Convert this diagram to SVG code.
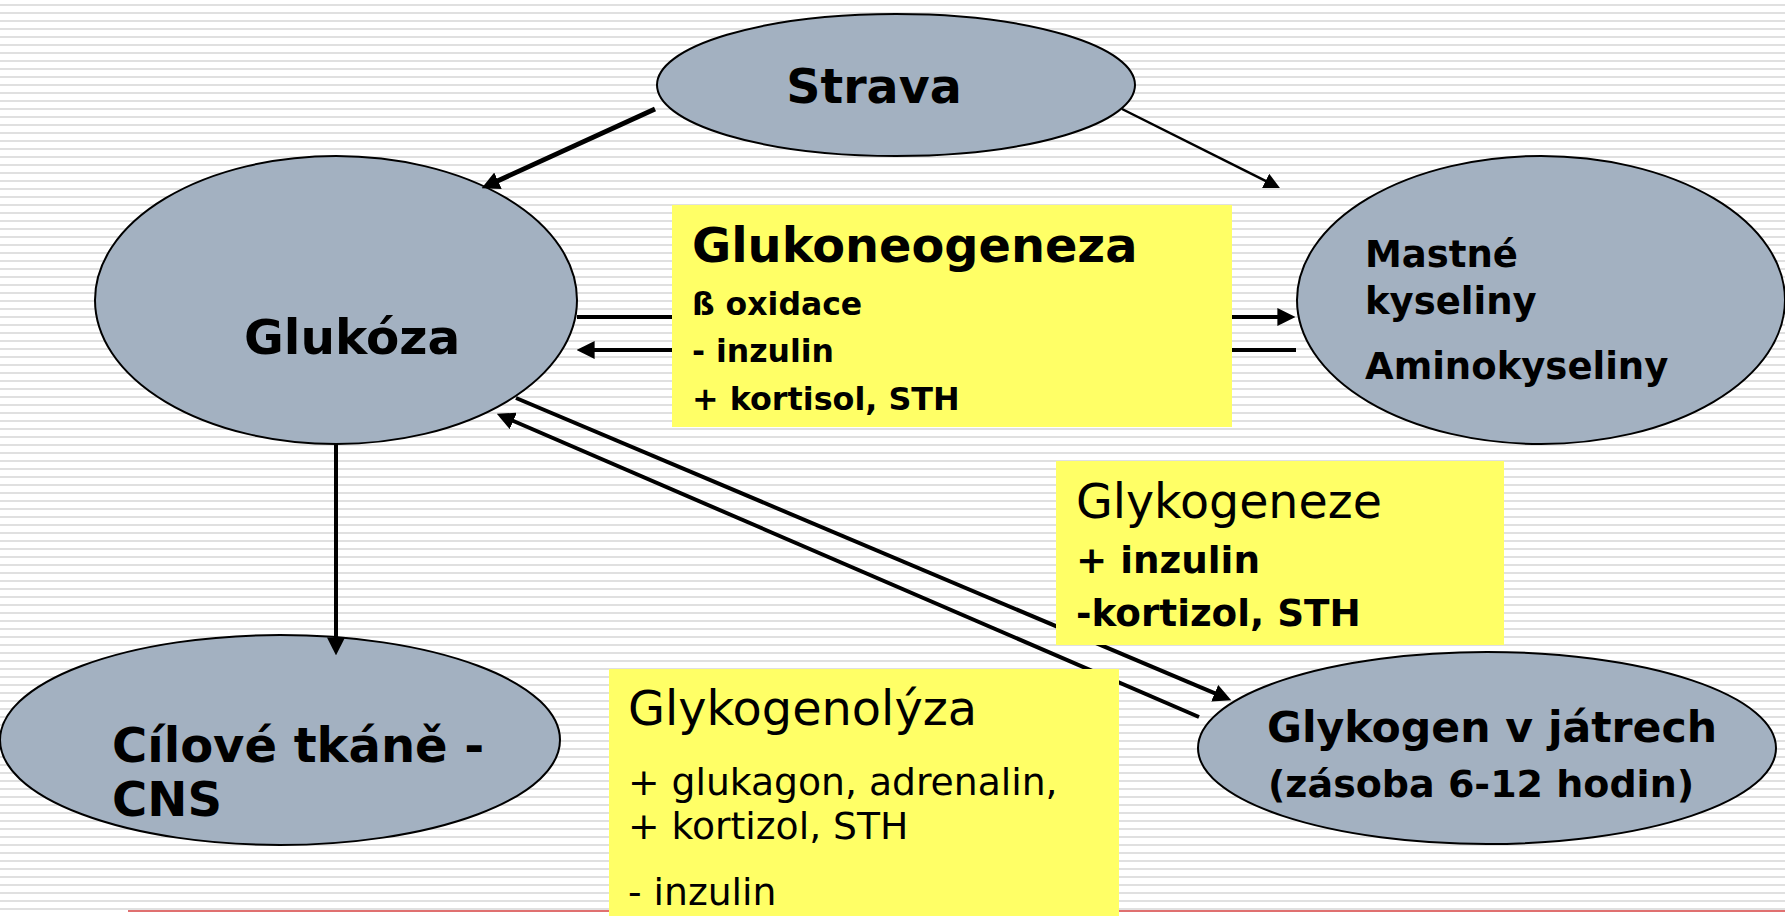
<svg xmlns="http://www.w3.org/2000/svg" width="1785" height="916" viewBox="0 0 1785 916">
<style>
.node{fill:#a3b1c1;stroke:#000;stroke-width:2}
.box{fill:#ffff66}
.b{font-family:"DejaVu Sans","Liberation Sans",sans-serif;font-weight:bold;fill:#000}
.r{font-family:"DejaVu Sans","Liberation Sans",sans-serif;font-weight:normal;fill:#000}
.thick{stroke:#000;stroke-width:5;fill:none}
.mid{stroke:#000;stroke-width:4;fill:none}
.thin{stroke:#000;stroke-width:2.5;fill:none}
</style>
<defs>
<pattern id="stripes" width="8" height="8" patternUnits="userSpaceOnUse">
<rect width="8" height="8" fill="#ffffff"/>
<rect y="4" width="8" height="2" fill="#e0e0e0"/>
</pattern>
<marker id="ah" viewBox="0 0 10 10" refX="2" refY="5" markerWidth="18" markerHeight="18" markerUnits="userSpaceOnUse" orient="auto">
<path d="M0,0 L10,5 L0,10 z" fill="#000"/>
</marker>
<marker id="ahs" viewBox="0 0 10 10" refX="2" refY="5" markerWidth="16" markerHeight="16" markerUnits="userSpaceOnUse" orient="auto">
<path d="M0,0 L10,5 L0,10 z" fill="#000"/>
</marker>
</defs>
<rect width="1785" height="916" fill="url(#stripes)"/>
<line x1="128" y1="911" x2="1785" y2="911" stroke="#e07070" stroke-width="2"/>

<g id="strava">
<ellipse class="node" cx="896" cy="85" rx="239" ry="71"/>
<text class="b" x="874" y="103" font-size="47.5" text-anchor="middle">Strava</text>
</g>
<g id="glukoza">
<ellipse class="node" cx="336" cy="300" rx="241" ry="144"/>
<text class="b" x="244" y="354" font-size="48.5">Glukóza</text>
</g>
<g id="mastne">
<ellipse class="node" cx="1541" cy="300" rx="244" ry="144"/>
<text class="b" x="1365" y="267" font-size="37">Mastné</text>
<text class="b" x="1365" y="314" font-size="37">kyseliny</text>
<text class="b" x="1365" y="379" font-size="37">Aminokyseliny</text>
</g>
<g id="cilove">
<ellipse class="node" cx="280" cy="740" rx="280" ry="105"/>
<text class="b" x="112" y="762" font-size="48">Cílové tkáně -</text>
<text class="b" x="112" y="816" font-size="48">CNS</text>
</g>
<g id="glykogen">
<ellipse class="node" cx="1487" cy="748" rx="289" ry="96"/>
<text class="b" x="1267" y="742" font-size="42.6">Glykogen v játrech</text>
<text class="b" x="1268" y="797" font-size="38">(zásoba 6-12 hodin)</text>
</g>

<g id="connectors">
<line class="thick" x1="655" y1="109" x2="494.7" y2="182.2" marker-end="url(#ah)"/>
<line class="thin" x1="1122" y1="109" x2="1268.5" y2="182.3" marker-end="url(#ahs)"/>
<line class="mid" x1="577" y1="317" x2="1281" y2="317" marker-end="url(#ah)"/>
<line class="mid" x1="1296" y1="350" x2="591" y2="350" marker-end="url(#ah)"/>
<line class="mid" x1="336" y1="444" x2="336" y2="641" marker-end="url(#ah)"/>
<line class="mid" x1="516" y1="398" x2="1218" y2="694.6" marker-end="url(#ah)"/>
<line class="mid" x1="1199" y1="717" x2="510" y2="419.5" marker-end="url(#ah)"/>
</g>

<g id="glukoneogeneza">
<rect class="box" x="672" y="205" width="560" height="222"/>
<text class="b" x="692" y="262" font-size="47.8">Glukoneogeneza</text>
<text class="b" x="692" y="315" font-size="31.5">ß oxidace</text>
<text class="b" x="692" y="362" font-size="31.5">- inzulin</text>
<text class="b" x="692" y="410" font-size="31.8">+ kortisol, STH</text>
</g>
<g id="glykogeneze">
<rect class="box" x="1056" y="461" width="448" height="184"/>
<text class="r" x="1076" y="518" font-size="47.5">Glykogeneze</text>
<text class="b" x="1076" y="573" font-size="37.3">+ inzulin</text>
<text class="b" x="1076" y="626" font-size="37.3">-kortizol, STH</text>
</g>
<g id="glykogenolyza">
<rect class="box" x="609" y="669" width="510" height="247"/>
<text class="r" x="628" y="725" font-size="47.8">Glykogenolýza</text>
<text class="r" x="628" y="795" font-size="37.7">+ glukagon, adrenalin,</text>
<text class="r" x="628" y="839" font-size="37.7">+ kortizol, STH</text>
<text class="r" x="628" y="905" font-size="37.7">- inzulin</text>
</g>
</svg>
